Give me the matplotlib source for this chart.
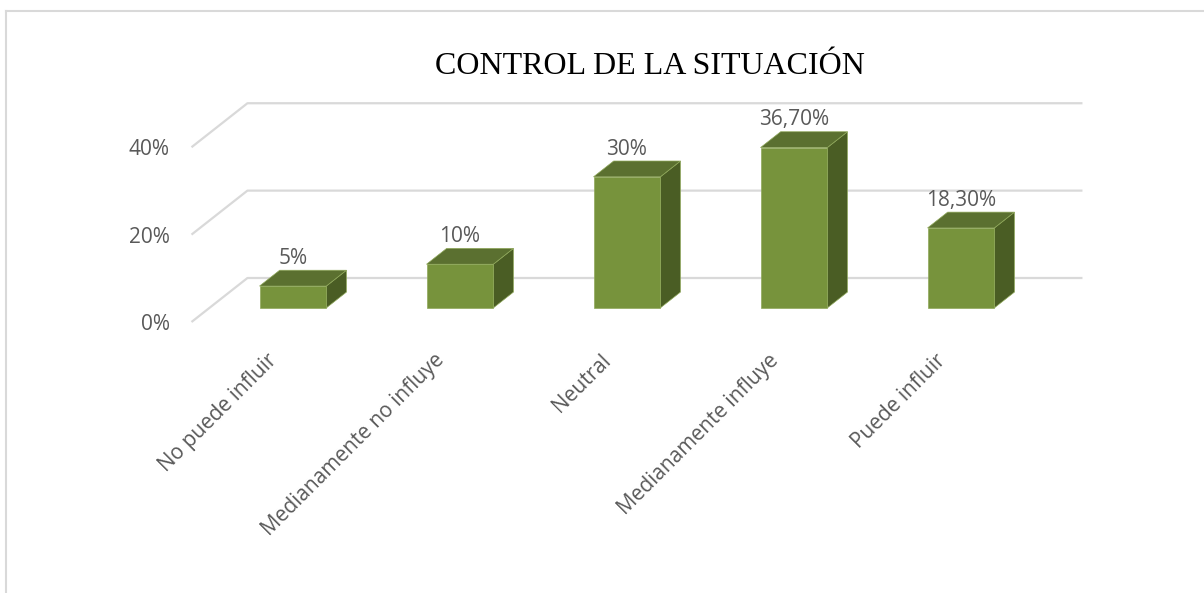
import matplotlib
matplotlib.use("Agg")
import matplotlib.pyplot as plt
from matplotlib.patches import Polygon
from matplotlib.lines import Line2D

# data
categories = ["No puede influir", "Medianamente no influye", "Neutral",
              "Medianamente influye", "Puede influir"]
values = [5, 10, 30, 36.7, 18.3]
value_labels = ["5%", "10%", "30%", "36,70%", "18,30%"]
y_ticks = [0, 20, 40]
y_ticklabels = ["0%", "20%", "40%"]
title = "CONTROL DE LA SITUACIÓN"

# fake 3d: one unit of depth moves a point right and up
DX, DY = 0.335, 10.07
D_FRONT, D_BACK = 0.32, 0.68
HALF_W = 0.2

FRONT = "#77933C"
TOP = "#5B7030"
SIDE = "#4A5D24"
GRID = "#D9D9D9"
TXT = "#595959"


def proj(x, y, d):
    return (x + d * DX, y + d * DY)


W, H = 1204, 593
fig = plt.figure(figsize=(W / 100, H / 100), dpi=100)
# axes box in pixels: x 192..1100, y 90..322
ax = fig.add_axes([192 / W, 1 - 322 / H, (1100 - 192) / W, (322 - 90) / H])
ax.set_xlim(-0.497, 4.94)
ax.set_ylim(0, 53.1)
for s in ax.spines.values():
    s.set_visible(False)

# wall and floor-side gridlines
x0, x1 = -0.5, len(categories) - 0.5
for t in y_ticks:
    a = proj(x0, t, 0)
    b = proj(x0, t, 1)
    c = proj(x1, t, 1)
    ax.plot([a[0], b[0], c[0]], [a[1], b[1], c[1]], color=GRID, lw=1.6,
            solid_capstyle="butt", zorder=1, clip_on=False)

for i, v in enumerate(values):
    l, r = i - HALF_W, i + HALF_W
    side = [proj(r, 0, D_FRONT), proj(r, 0, D_BACK), proj(r, v, D_BACK), proj(r, v, D_FRONT)]
    top = [proj(l, v, D_FRONT), proj(r, v, D_FRONT), proj(r, v, D_BACK), proj(l, v, D_BACK)]
    front = [proj(l, 0, D_FRONT), proj(r, 0, D_FRONT), proj(r, v, D_FRONT), proj(l, v, D_FRONT)]
    for pts, col in ((side, SIDE), (top, TOP), (front, FRONT)):
        ax.add_patch(Polygon(pts, closed=True, facecolor=col, edgecolor="#8FA85A",
                             lw=0.5, zorder=3, clip_on=False))
    ly = proj(i, v, D_BACK)[1]
    lx = proj(i, v, D_FRONT)[0]
    ax.text(lx, ly + 0.3, value_labels[i], ha="center", va="bottom",
            fontsize=15, color=TXT, family="Open Sans", zorder=4)

ax.set_yticks(y_ticks)
ax.set_yticklabels(y_ticklabels, family="Open Sans", fontsize=15, color=TXT)
ax.set_xticks([i - 0.05 for i in range(len(categories))])
ax.set_xticklabels(categories, rotation=45, ha="right", va="top",
                   rotation_mode="anchor", family="Open Sans", fontsize=15, color=TXT)
ax.tick_params(axis="y", length=0, pad=16)
ax.tick_params(axis="x", length=0, pad=20)

fig.text(650 / W, 1 - 67 / H, title, ha="center", va="center",
         family="Liberation Serif", fontsize=23, color="black")

# chart border (top and left visible)
fig.add_artist(Line2D([6 / W, 1], [1 - 11 / H, 1 - 11 / H], color=GRID, lw=1.5))
fig.add_artist(Line2D([6 / W, 6 / W], [1 - 11 / H, 0], color=GRID, lw=1.5))

fig.savefig("out.png", dpi=100)
